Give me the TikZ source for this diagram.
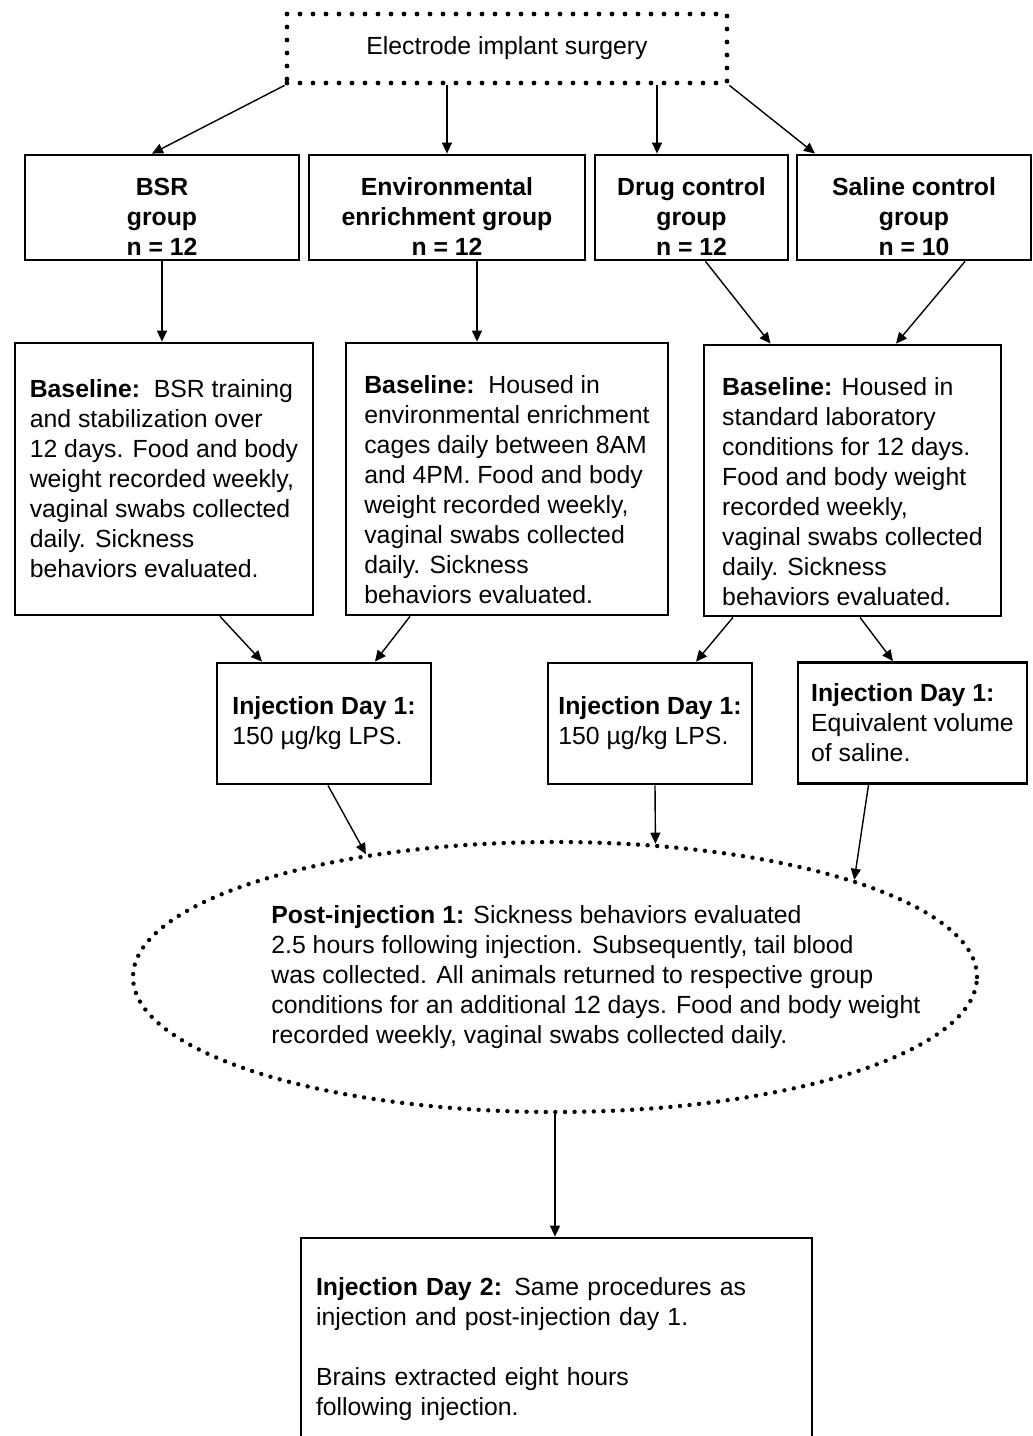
\documentclass[tikz,border=0pt]{standalone}
\usepackage{fontspec}
\setmainfont{Liberation Sans}
\usetikzlibrary{shapes.geometric, arrows.meta, positioning}

\begin{document}
\begin{tikzpicture}[
    x=0.5pt, y=-0.5pt,
    every node/.style={font=\fontsize{12.4}{15}\selectfont},
    groupbox/.style={rectangle, draw=black, line width=1.4pt, align=center, inner ysep=0pt, minimum height=52.5pt, font=\fontsize{12.4}{15}\selectfont\bfseries},
    stagebox/.style={rectangle, draw=black, line width=1.4pt, align=left, inner sep=0pt},
    dotbox/.style={rectangle, draw=black, line width=2.4pt, dash pattern=on 0pt off 6.5pt, line cap=round},
    dotellipse/.style={ellipse, draw=black, line width=2.2pt, dash pattern=on 0pt off 4.8pt, line cap=round},
    arrow/.style={-{Triangle[length=5.5pt, width=5pt]}, line width=0.7pt}
]
\useasboundingbox (0,0) rectangle (1033,1436);

% Surgery at the top
\node[dotbox, minimum width=220pt, minimum height=34.5pt] (surgery) at (507,48.5) {Electrode implant surgery};

% The four groups
\node[groupbox, minimum width=137pt] (bsr) at (162,207.5) {\rule{0pt}{18pt}BSR\\group\\n = 12};
\node[groupbox, minimum width=138pt] (env) at (447,207.5) {\rule{0pt}{18pt}Environmental\\enrichment group\\n = 12};
\node[groupbox, minimum width=96.5pt] (drug) at (691.5,207.5) {\rule{0pt}{18pt}Drug control\\group\\n = 12};
\node[groupbox, minimum width=117pt] (saline) at (914,207.5) {\rule{0pt}{18pt}Saline control\\group\\n = 10};

% Baseline boxes
\node[stagebox, minimum width=149pt, minimum height=136pt] (base1) at (164,479) {\textbf{Baseline:}\ \ BSR training\\and stabilization over\\12 days. Food and body\\weight recorded weekly,\\vaginal swabs collected\\daily. Sickness\\behaviors evaluated.};
\node[stagebox, minimum width=161pt, minimum height=136pt] (base2) at (507,479) {\rule{0pt}{20pt}\textbf{Baseline:}\ \ Housed in\\environmental enrichment\\cages daily between 8AM\\and 4PM. Food and body\\weight recorded weekly,\\vaginal swabs collected\\daily. Sickness\\behaviors evaluated.};
\node[stagebox, minimum width=148.5pt, minimum height=135.5pt] (base3) at (852.5,480.5) {\rule{0pt}{20pt}\textbf{Baseline:} Housed in\\standard laboratory\\conditions for 12 days.\\Food and body weight\\recorded weekly,\\vaginal swabs collected\\daily. Sickness\\behaviors evaluated.};

% Injection day 1
\node[stagebox, minimum width=107pt, minimum height=60.5pt] (inj1) at (324,723.5) {\textbf{Injection Day 1:}\\150 µg/kg LPS.};
\node[stagebox, minimum width=102pt, minimum height=60.5pt] (inj2) at (650,723.5) {\textbf{Injection Day 1:}\\150 µg/kg LPS.};
\node[stagebox, minimum width=114.5pt, minimum height=60.5pt] (inj3) at (912.5,723) {\textbf{Injection Day 1:}\\Equivalent volume\\of saline.};

% Post-injection ellipse and its text
\node[dotellipse, minimum width=422pt, minimum height=135pt, inner sep=0pt] (post) at (555,977) {};
\node[align=left, inner sep=0pt, anchor=west] (posttext) at (271,977) {\textbf{Post-injection 1:} Sickness behaviors evaluated\\2.5 hours following injection. Subsequently, tail blood\\was collected. All animals returned to respective group\\conditions for an additional 12 days. Food and body weight\\recorded weekly, vaginal swabs collected daily.};

% Injection day 2
\node[stagebox, text width=240.5pt, inner xsep=7.5pt, minimum height=111pt] (final) at (556.5,1349) {\textbf{Injection Day 2:} Same procedures as\\injection and post-injection day 1.\\[15pt]Brains extracted eight hours\\following injection.};

% Arrows
\draw[arrow] (surgery.south west) -- ([xshift=-5pt]bsr.north);
\draw[arrow] (env.north |- surgery.south) -- (env.north);
\draw[arrow] ([xshift=75pt]surgery.south) -- ([xshift=-17.25pt]drug.north);
\draw[arrow] (surgery.south east) -- ([xshift=-49.5pt]saline.north);

\draw[arrow] (bsr.south) -- (bsr.south |- base1.north);
\draw[arrow] ([xshift=15pt]env.south) -- ([xshift=-15pt]base2.north);
\draw[arrow] ([xshift=7pt]drug.south) -- ([xshift=-41pt]base3.north);
\draw[arrow] ([xshift=25.5pt]saline.south) -- ([xshift=21.75pt]base3.north);

\draw[arrow] ([xshift=28pt]base1.south) -- ([xshift=-31pt]inj1.north);
\draw[arrow] ([xshift=-48.5pt]base2.south) -- ([xshift=25.5pt]inj1.north);
\draw[arrow] ([xshift=-59.75pt]base3.south) -- ([xshift=23pt]inj2.north);
\draw[arrow] ([xshift=3.75pt]base3.south) -- ([xshift=-9.75pt]inj3.north);

\draw[arrow] ([xshift=2pt]inj1.south) -- (post.147);
\draw[arrow] ([xshift=2.5pt]inj2.south) -- (post.53);
\draw[arrow] ([xshift=-22pt]inj3.south) -- (post.18);

\draw[arrow] (post.south) -- (post.south |- final.north);

\end{tikzpicture}
\end{document}
